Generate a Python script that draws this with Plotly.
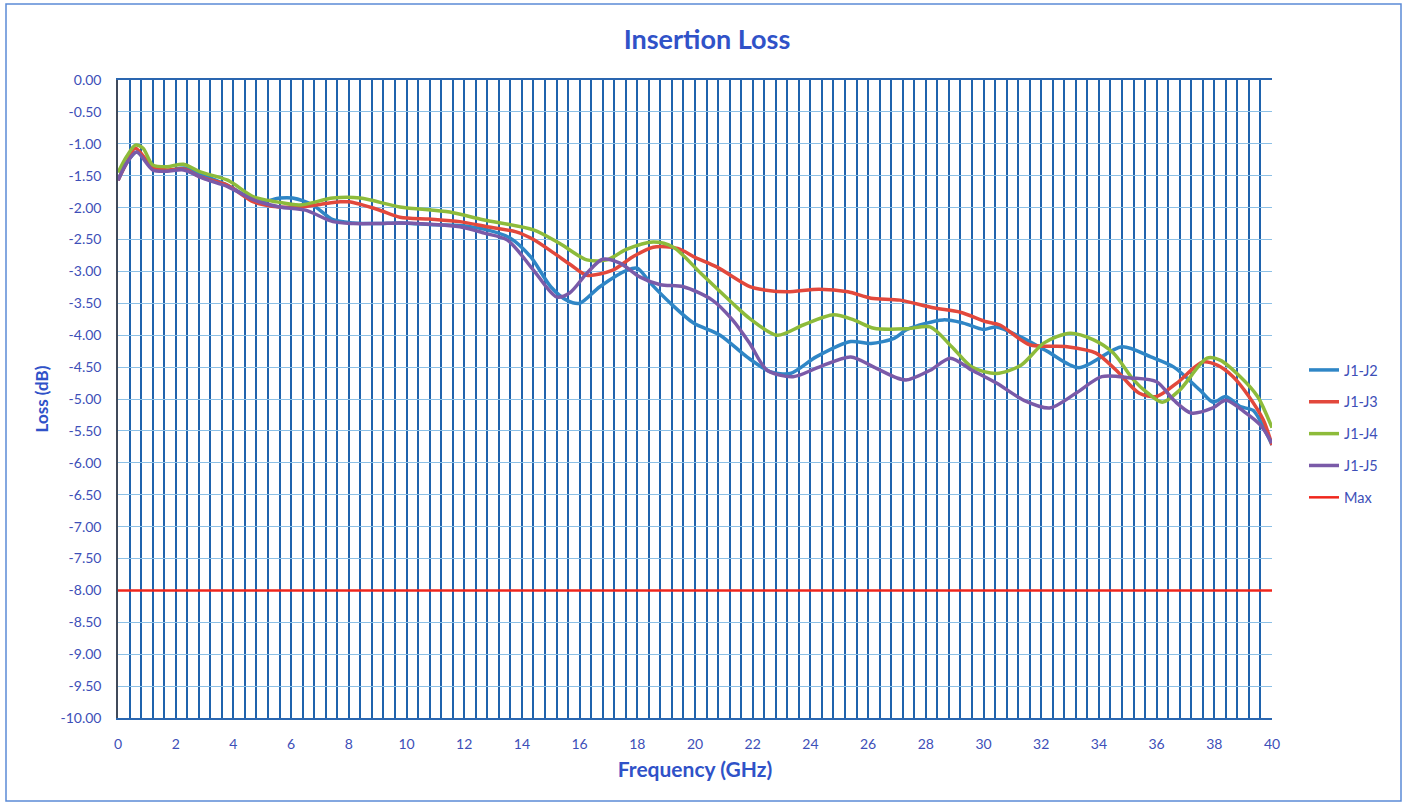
import plotly.graph_objects as go

# ---------------- data ----------------
j12_f = [0, 0.3, 0.65, 1.2, 1.7, 2.3, 3.0, 3.8, 4.9, 5.6, 6.05, 6.75, 7.45, 8.15, 9.0, 9.77,
         11.0, 11.85, 12.8, 13.6, 14.3, 15.0, 15.55, 16.0, 16.7, 17.65, 18.0, 18.45, 19.15,
         19.95, 20.87, 21.8, 22.6, 23.3, 24.2, 25.4, 26.1, 26.9, 27.35, 28.6, 29.3, 30.0,
         30.45, 31.3, 32.2, 33.3, 34.8, 35.8, 36.6, 37.5, 37.96, 38.4, 38.9, 39.35, 39.8, 40]
j12_v = [-1.57, -1.3, -1.13, -1.38, -1.42, -1.38, -1.5, -1.65, -1.91, -1.85, -1.85, -1.96,
         -2.19, -2.24, -2.25, -2.24, -2.27, -2.28, -2.35, -2.48, -2.77, -3.24, -3.45, -3.5,
         -3.24, -2.98, -2.95, -3.18, -3.5, -3.81, -4.0, -4.34, -4.57, -4.6, -4.34, -4.1,
         -4.13, -4.05, -3.91, -3.76, -3.81, -3.91, -3.87, -4.03, -4.25, -4.51, -4.18, -4.34,
         -4.5, -4.86, -5.05, -4.96, -5.12, -5.18, -5.53, -5.72]

j13_f = [0, 0.3, 0.6, 1.2, 1.7, 2.3, 2.85, 3.8, 4.7, 5.6, 6.3, 7.0, 7.7, 8.0, 9.0, 9.77,
         10.8, 11.85, 12.8, 13.8, 14.4, 15.1, 15.7, 16.25, 17.15, 17.85, 18.55, 19.4, 20.0,
         20.75, 21.9, 22.4, 23.2, 24.3, 25.3, 26.1, 27.1, 28.25, 29.2, 30.1, 30.57, 31.6,
         32.9, 33.9, 34.6, 35.4, 36.0, 36.7, 37.6, 38.1, 38.65, 39.2, 39.7, 40]
j13_v = [-1.57, -1.3, -1.07, -1.36, -1.41, -1.4, -1.52, -1.65, -1.91, -1.99, -1.99, -1.95,
         -1.91, -1.91, -2.03, -2.15, -2.18, -2.22, -2.3, -2.38, -2.5, -2.71, -2.9, -3.06,
         -2.98, -2.77, -2.62, -2.64, -2.78, -2.93, -3.24, -3.29, -3.32, -3.28, -3.32, -3.42,
         -3.45, -3.57, -3.64, -3.79, -3.84, -4.15, -4.18, -4.28, -4.55, -4.91, -4.96, -4.75,
         -4.42, -4.47, -4.65, -4.96, -5.33, -5.72]

j14_f = [0, 0.3, 0.6, 0.87, 1.2, 1.7, 2.27, 2.85, 3.8, 4.7, 5.5, 6.3, 7.45, 8.4, 9.77, 11.5,
         12.65, 14.4, 15.3, 16.25, 16.95, 17.6, 18.55, 19.25, 20.2, 21.3, 21.9, 22.85, 23.75,
         24.8, 25.5, 26.2, 27.35, 28.15, 28.9, 29.6, 30.45, 31.3, 32.1, 33.0, 33.8, 34.5,
         35.2, 35.7, 36.2, 36.8, 37.75, 38.2, 38.9, 39.5, 40]
j14_v = [-1.45, -1.2, -1.02, -1.07, -1.33, -1.36, -1.32, -1.44, -1.57, -1.83, -1.91, -1.96,
         -1.85, -1.85, -1.99, -2.07, -2.19, -2.35, -2.56, -2.82, -2.82, -2.66, -2.54, -2.62,
         -3.03, -3.5, -3.74, -4.0, -3.84, -3.68, -3.76, -3.89, -3.9, -3.87, -4.18, -4.5,
         -4.6, -4.47, -4.12, -3.97, -4.07, -4.28, -4.7, -4.91, -5.05, -4.86, -4.36, -4.39,
         -4.65, -4.96, -5.45]

j15_f = [0, 0.3, 0.65, 1.2, 1.7, 2.27, 3.0, 3.8, 4.7, 5.6, 6.5, 7.45, 8.15, 9.0, 9.77, 10.8,
         11.85, 12.7, 13.5, 14.4, 15.2, 15.65, 16.25, 16.8, 17.4, 18.1, 18.8, 19.6, 20.6,
         21.3, 21.9, 22.5, 23.4, 24.3, 25.4, 26.2, 27.0, 27.35, 28.15, 28.85, 29.6, 30.45,
         31.4, 32.3, 33.2, 34.1, 35.1, 36.0, 36.6, 37.2, 37.95, 38.4, 39.1, 39.6, 40]
j15_v = [-1.57, -1.3, -1.13, -1.41, -1.43, -1.41, -1.55, -1.67, -1.88, -1.99, -2.04, -2.22,
         -2.25, -2.25, -2.24, -2.26, -2.3, -2.4, -2.51, -2.98, -3.4, -3.34, -3.03, -2.81,
         -2.87, -3.09, -3.21, -3.24, -3.45, -3.76, -4.13, -4.55, -4.65, -4.5, -4.34, -4.5,
         -4.67, -4.7, -4.55, -4.36, -4.55, -4.75, -5.02, -5.14, -4.91, -4.65, -4.67, -4.73,
         -5.02, -5.22, -5.14, -5.02, -5.22, -5.41, -5.69]

max_f = [0, 40]
max_v = [-8.0, -8.0]

x_tick_vals = [0, 2, 4, 6, 8, 10, 12, 14, 16, 18, 20, 22, 24, 26, 28, 30, 32, 34, 36, 38, 40]
x_tick_text = [str(v) for v in x_tick_vals]
y_tick_vals = [-i * 0.5 for i in range(21)]
y_tick_text = ["%.2f" % v if v != 0 else "0.00" for v in y_tick_vals]

series = [
    ("J1-J2", j12_f, j12_v, "#2f86c6"),
    ("J1-J3", j13_f, j13_v, "#e2483c"),
    ("J1-J4", j14_f, j14_v, "#8dbb3a"),
    ("J1-J5", j15_f, j15_v, "#7a5aa8"),
]

FONT = "Lato"
LABEL = "#3d4fb8"
TITLE = "#3052c8"

W, H = 1408, 806
PL, PR, PT, PB = 118, 1272, 80, 718   # plot area in page px
PW, PH = PR - PL, PB - PT

fig = go.Figure()
for name, f, v, c in series:
    fig.add_trace(go.Scatter(x=f, y=v, name=name, mode="lines", legendgroup=name,
                             line=dict(color=c, width=3.5, shape="spline", smoothing=0.8)))
fig.add_trace(go.Scatter(x=max_f, y=max_v, name="Max", mode="lines", legendgroup="Max",
                         line=dict(color="#f0261c", width=2.5)))

fig.update_layout(
    width=W, height=H,
    margin=dict(l=PL, r=W - PR, t=PT, b=H - PB),
    paper_bgcolor="white", plot_bgcolor="white",
    font=dict(family=FONT, color=LABEL, size=14),
    title=dict(text="<b>Insertion Loss</b>", x=707 / W, xanchor="center",
               y=1 - 40 / H, yanchor="middle",
               font=dict(family=FONT, size=27, color=TITLE)),
    legend=dict(x=(1304 - PL) / PW, xanchor="left", y=(PB - 434) / PH, yanchor="middle",
                traceorder="grouped", tracegroupgap=10,
                font=dict(family=FONT, size=14.5, color=LABEL),
                bgcolor="rgba(0,0,0,0)"),
    shapes=[dict(type="rect", xref="paper", yref="paper",
                 x0=(6 - PL) / PW, x1=(1401 - PL) / PW,
                 y0=(PB - 801) / PH, y1=(PB - 4) / PH,
                 line=dict(color="#5b8ad6", width=1.5), layer="below")],
)

fig.update_xaxes(
    range=[0, 40], tickmode="array", tickvals=x_tick_vals, ticktext=x_tick_text,
    showgrid=True, gridcolor="#1f63ad", gridwidth=2,
    minor=dict(dtick=0.4, tick0=0, showgrid=True, gridcolor="#1f63ad", gridwidth=2),
    showline=True, linecolor="#2a66b0", linewidth=1.5, mirror=True,
    zeroline=False, ticks="", ticklabelstandoff=12,
    tickfont=dict(family=FONT, size=14, color=LABEL),
    title=dict(text="<b>Frequency (GHz)</b>", standoff=12,
               font=dict(family=FONT, size=21, color=TITLE)),
)
fig.update_yaxes(
    range=[-10, 0], tickmode="array", tickvals=y_tick_vals, ticktext=y_tick_text,
    showgrid=True, gridcolor="#8cc0e6", gridwidth=1,
    showline=True, linecolor="#404a5a", linewidth=1.5,
    zeroline=False, ticks="", ticklabelstandoff=12,
    tickfont=dict(family=FONT, size=14, color=LABEL),
    title=dict(text="<b>Loss (dB)</b>", standoff=8,
               font=dict(family=FONT, size=17, color=TITLE)),
)

# remove the default page margin so the figure sits at the window's top-left corner
fig.write_html("out.html", config={"displayModeBar": False},
               post_script="document.body.style.margin='0';document.body.style.overflow='hidden';")
